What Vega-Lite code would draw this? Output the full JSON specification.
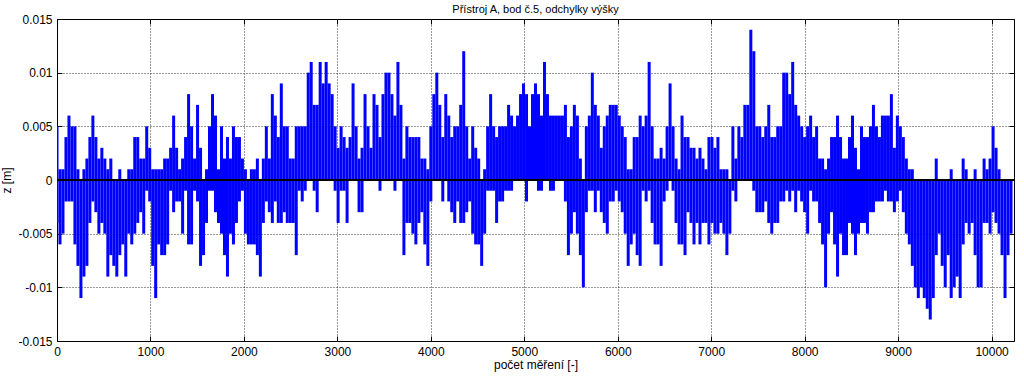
{
"$schema": "https://vega.github.io/schema/vega-lite/v6.json",
"width": 957, "height": 322,
"autosize": "none",
"padding": {"left": 57, "top": 19, "right": 10, "bottom": 37},
"background": "white",
"title": {"text": "Přístroj A, bod č.5, odchylky výšky", "fontSize": 11, "fontWeight": "normal", "font": "Liberation Sans", "offset": 5, "dy": 7, "color": "black"},
"config": {
  "view": {"stroke": "black", "strokeWidth": 1},
  "axis": {"labelFont": "Liberation Sans", "labelFontSize": 12, "titleFont": "Liberation Sans", "titleFontSize": 12, "titleFontWeight": "normal", "labelColor": "black", "titleColor": "black", "domain": false, "tickColor": "#000", "tickSize": -5, "labelPadding": 10, "gridColor": "#000", "gridDash": [1, 2], "gridOpacity": 0.8}
},
"resolve": {"axis": {"x": "independent", "y": "independent"}},
"layer": [
{
"data": {"values": [
{"n":0,"hi":0.005,"lo":-0.004},{"n":32,"hi":0.001,"lo":-0.006},{"n":64,"hi":0.001,"lo":-0.005},{"n":96,"hi":0.004,"lo":-0.002},{"n":128,"hi":0.006,"lo":-0.002},{"n":160,"hi":0.005,"lo":-0.002},{"n":192,"hi":0.005,"lo":-0.006},{"n":224,"hi":0.001,"lo":-0.008},{"n":256,"hi":0,"lo":-0.011},{"n":288,"hi":0.001,"lo":-0.009},
{"n":320,"hi":0.002,"lo":-0.008},{"n":352,"hi":0.004,"lo":-0.004},{"n":384,"hi":0.006,"lo":-0.002},{"n":416,"hi":0.004,"lo":-0.003},{"n":448,"hi":0.002,"lo":-0.005},{"n":480,"hi":0.003,"lo":-0.004},{"n":512,"hi":0.002,"lo":-0.005},{"n":544,"hi":0.001,"lo":-0.009},{"n":576,"hi":0.002,"lo":-0.007},{"n":608,"hi":0,"lo":-0.008},
{"n":640,"hi":0,"lo":-0.009},{"n":672,"hi":0.001,"lo":-0.007},{"n":704,"hi":0,"lo":-0.006},{"n":736,"hi":0,"lo":-0.009},{"n":768,"hi":0.001,"lo":-0.005},{"n":800,"hi":0.001,"lo":-0.006},{"n":832,"hi":0.004,"lo":-0.005},{"n":864,"hi":0.004,"lo":-0.004},{"n":896,"hi":0.002,"lo":-0.003},{"n":928,"hi":0.002,"lo":-0.005},
{"n":960,"hi":0.005,"lo":-0.001},{"n":992,"hi":0.003,"lo":-0.002},{"n":1024,"hi":0.001,"lo":-0.008},{"n":1056,"hi":0.001,"lo":-0.011},{"n":1088,"hi":0.001,"lo":-0.006},{"n":1120,"hi":0.001,"lo":-0.007},{"n":1152,"hi":0.002,"lo":-0.007},{"n":1184,"hi":0.002,"lo":-0.006},{"n":1216,"hi":0.003,"lo":-0.001},{"n":1248,"hi":0.006,"lo":-0.003},
{"n":1280,"hi":0.003,"lo":-0.002},{"n":1312,"hi":0.001,"lo":-0.002},{"n":1344,"hi":0.002,"lo":-0.005},{"n":1376,"hi":0.004,"lo":-0.001},{"n":1408,"hi":0.008,"lo":-0.006},{"n":1440,"hi":0.005,"lo":-0.006},{"n":1472,"hi":0.002,"lo":-0.001},{"n":1504,"hi":0.007,"lo":-0.002},{"n":1536,"hi":0.003,"lo":-0.008},{"n":1568,"hi":0,"lo":-0.007},
{"n":1600,"hi":0.001,"lo":-0.004},{"n":1632,"hi":0.005,"lo":-0.001},{"n":1664,"hi":0.008,"lo":-0.001},{"n":1696,"hi":0.006,"lo":-0.003},{"n":1728,"hi":0.001,"lo":-0.004},{"n":1760,"hi":0.005,"lo":-0.005},{"n":1792,"hi":0.002,"lo":-0.007},{"n":1824,"hi":0.004,"lo":-0.009},{"n":1856,"hi":0.002,"lo":-0.005},{"n":1888,"hi":0.005,"lo":-0.006},
{"n":1920,"hi":0.004,"lo":-0.004},{"n":1952,"hi":0.004,"lo":-0.002},{"n":1984,"hi":0.002,"lo":-0.001},{"n":2016,"hi":0.001,"lo":-0.005},{"n":2048,"hi":0,"lo":-0.006},{"n":2080,"hi":0.001,"lo":-0.006},{"n":2112,"hi":0.001,"lo":-0.006},{"n":2144,"hi":0.002,"lo":-0.007},{"n":2176,"hi":0,"lo":-0.009},{"n":2208,"hi":0.002,"lo":-0.004},
{"n":2240,"hi":0.005,"lo":-0.002},{"n":2272,"hi":0.002,"lo":-0.003},{"n":2304,"hi":0.008,"lo":-0.004},{"n":2336,"hi":0.006,"lo":-0.002},{"n":2368,"hi":0.004,"lo":-0.004},{"n":2400,"hi":0.009,"lo":-0.004},{"n":2432,"hi":0.005,"lo":-0.003},{"n":2464,"hi":0.005,"lo":-0.004},{"n":2496,"hi":0.002,"lo":-0.004},{"n":2528,"hi":0.002,"lo":-0.004},
{"n":2560,"hi":0.005,"lo":-0.007},{"n":2592,"hi":0.005,"lo":-0.001},{"n":2624,"hi":0.005,"lo":-0.002},{"n":2656,"hi":0.005,"lo":-0.001},{"n":2688,"hi":0.01,"lo":0},{"n":2720,"hi":0.011,"lo":0},{"n":2752,"hi":0.007,"lo":-0.001},{"n":2784,"hi":0.007,"lo":-0.003},{"n":2816,"hi":0.011,"lo":0},{"n":2848,"hi":0.009,"lo":0},
{"n":2880,"hi":0.011,"lo":0},{"n":2912,"hi":0.009,"lo":0},{"n":2944,"hi":0.008,"lo":0},{"n":2976,"hi":0.005,"lo":-0.001},{"n":3008,"hi":0.003,"lo":-0.004},{"n":3040,"hi":0.005,"lo":-0.001},{"n":3072,"hi":0.004,"lo":-0.001},{"n":3104,"hi":0.003,"lo":-0.004},{"n":3136,"hi":0.004,"lo":0},{"n":3168,"hi":0.009,"lo":0},
{"n":3200,"hi":0.005,"lo":0},{"n":3232,"hi":0.002,"lo":-0.003},{"n":3264,"hi":0.003,"lo":-0.003},{"n":3296,"hi":0.008,"lo":0},{"n":3328,"hi":0.005,"lo":0},{"n":3360,"hi":0.003,"lo":0},{"n":3392,"hi":0.008,"lo":0},{"n":3424,"hi":0.007,"lo":0},{"n":3456,"hi":0.004,"lo":-0.001},{"n":3488,"hi":0.008,"lo":0},
{"n":3520,"hi":0.01,"lo":0},{"n":3552,"hi":0.01,"lo":0},{"n":3584,"hi":0.008,"lo":0},{"n":3616,"hi":0.006,"lo":-0.001},{"n":3648,"hi":0.011,"lo":0},{"n":3680,"hi":0.007,"lo":0},{"n":3712,"hi":0.002,"lo":-0.007},{"n":3744,"hi":0.005,"lo":-0.004},{"n":3776,"hi":0.004,"lo":-0.004},{"n":3808,"hi":0.004,"lo":-0.005},
{"n":3840,"hi":0.004,"lo":-0.006},{"n":3872,"hi":0.004,"lo":-0.004},{"n":3904,"hi":0.002,"lo":-0.003},{"n":3936,"hi":0.002,"lo":-0.006},{"n":3968,"hi":0.001,"lo":-0.008},{"n":4000,"hi":0.005,"lo":-0.002},{"n":4032,"hi":0.008,"lo":0},{"n":4064,"hi":0.01,"lo":0},{"n":4096,"hi":0.007,"lo":0},{"n":4128,"hi":0.004,"lo":-0.002},
{"n":4160,"hi":0.008,"lo":0},{"n":4192,"hi":0.006,"lo":-0.002},{"n":4224,"hi":0.004,"lo":-0.003},{"n":4256,"hi":0.005,"lo":-0.004},{"n":4288,"hi":0.005,"lo":-0.002},{"n":4320,"hi":0.007,"lo":-0.004},{"n":4352,"hi":0.012,"lo":-0.004},{"n":4384,"hi":0.005,"lo":-0.003},{"n":4416,"hi":0.002,"lo":-0.002},{"n":4448,"hi":0.005,"lo":-0.005},
{"n":4480,"hi":0.003,"lo":-0.006},{"n":4512,"hi":0.002,"lo":-0.006},{"n":4544,"hi":0,"lo":-0.008},{"n":4576,"hi":0.001,"lo":-0.005},{"n":4608,"hi":0.005,"lo":-0.001},{"n":4640,"hi":0.008,"lo":-0.001},{"n":4672,"hi":0.005,"lo":-0.001},{"n":4704,"hi":0.004,"lo":-0.004},{"n":4736,"hi":0.005,"lo":-0.002},{"n":4768,"hi":0.005,"lo":-0.002},
{"n":4800,"hi":0.005,"lo":-0.001},{"n":4832,"hi":0.007,"lo":-0.001},{"n":4864,"hi":0.006,"lo":-0.001},{"n":4896,"hi":0.005,"lo":0},{"n":4928,"hi":0.006,"lo":0},{"n":4960,"hi":0.008,"lo":0},{"n":4992,"hi":0.009,"lo":0},{"n":5024,"hi":0.008,"lo":-0.002},{"n":5056,"hi":0.005,"lo":0},{"n":5088,"hi":0.008,"lo":0},
{"n":5120,"hi":0.009,"lo":0},{"n":5152,"hi":0.008,"lo":-0.001},{"n":5184,"hi":0.006,"lo":-0.001},{"n":5216,"hi":0.011,"lo":0},{"n":5248,"hi":0.008,"lo":0},{"n":5280,"hi":0.006,"lo":-0.001},{"n":5312,"hi":0.006,"lo":-0.001},{"n":5344,"hi":0.006,"lo":0},{"n":5376,"hi":0.006,"lo":0},{"n":5408,"hi":0.006,"lo":0},
{"n":5440,"hi":0.007,"lo":-0.002},{"n":5472,"hi":0.004,"lo":-0.007},{"n":5504,"hi":0.005,"lo":-0.005},{"n":5536,"hi":0.007,"lo":-0.003},{"n":5568,"hi":0.006,"lo":-0.005},{"n":5600,"hi":0.002,"lo":-0.007},{"n":5632,"hi":0,"lo":-0.01},{"n":5664,"hi":0.005,"lo":-0.003},{"n":5696,"hi":0.006,"lo":-0.001},{"n":5728,"hi":0.01,"lo":-0.001},
{"n":5760,"hi":0.007,"lo":-0.003},{"n":5792,"hi":0.006,"lo":-0.001},{"n":5824,"hi":0.003,"lo":-0.003},{"n":5856,"hi":0.005,"lo":-0.004},{"n":5888,"hi":0.006,"lo":-0.005},{"n":5920,"hi":0.007,"lo":-0.002},{"n":5952,"hi":0.007,"lo":-0.002},{"n":5984,"hi":0.007,"lo":-0.001},{"n":6016,"hi":0.006,"lo":-0.002},{"n":6048,"hi":0.005,"lo":-0.003},
{"n":6080,"hi":0.004,"lo":-0.005},{"n":6112,"hi":0.001,"lo":-0.008},{"n":6144,"hi":0.001,"lo":-0.006},{"n":6176,"hi":0.004,"lo":-0.005},{"n":6208,"hi":0.004,"lo":-0.007},{"n":6240,"hi":0.006,"lo":-0.008},{"n":6272,"hi":0.005,"lo":-0.001},{"n":6304,"hi":0.006,"lo":-0.002},{"n":6336,"hi":0.011,"lo":-0.001},{"n":6368,"hi":0.005,"lo":-0.004},
{"n":6400,"hi":0.002,"lo":-0.006},{"n":6432,"hi":0.002,"lo":-0.006},{"n":6464,"hi":0.003,"lo":-0.008},{"n":6496,"hi":0.002,"lo":-0.002},{"n":6528,"hi":0.005,"lo":-0.001},{"n":6560,"hi":0.009,"lo":0},{"n":6592,"hi":0.005,"lo":-0.001},{"n":6624,"hi":0.002,"lo":-0.004},{"n":6656,"hi":0.001,"lo":-0.006},{"n":6688,"hi":0.006,"lo":-0.006},
{"n":6720,"hi":0.004,"lo":-0.007},{"n":6752,"hi":0.004,"lo":-0.003},{"n":6784,"hi":0.003,"lo":-0.004},{"n":6816,"hi":0.003,"lo":-0.006},{"n":6848,"hi":0.002,"lo":-0.004},{"n":6880,"hi":0.003,"lo":-0.006},{"n":6912,"hi":0.002,"lo":-0.004},{"n":6944,"hi":0.001,"lo":-0.004},{"n":6976,"hi":0.004,"lo":-0.006},{"n":7008,"hi":0.004,"lo":-0.004},
{"n":7040,"hi":0.003,"lo":-0.005},{"n":7072,"hi":0.004,"lo":-0.005},{"n":7104,"hi":0.001,"lo":-0.004},{"n":7136,"hi":0.001,"lo":-0.005},{"n":7168,"hi":0.001,"lo":-0.007},{"n":7200,"hi":0,"lo":-0.005},{"n":7232,"hi":0.005,"lo":-0.001},{"n":7264,"hi":0.002,"lo":-0.002},{"n":7296,"hi":0.005,"lo":0},{"n":7328,"hi":0.004,"lo":0},
{"n":7360,"hi":0.007,"lo":0},{"n":7392,"hi":0.007,"lo":0},{"n":7424,"hi":0.014,"lo":0},{"n":7456,"hi":0.012,"lo":-0.001},{"n":7488,"hi":0.005,"lo":-0.003},{"n":7520,"hi":0.005,"lo":-0.003},{"n":7552,"hi":0.004,"lo":-0.003},{"n":7584,"hi":0.005,"lo":-0.002},{"n":7616,"hi":0.007,"lo":-0.004},{"n":7648,"hi":0.004,"lo":-0.005},
{"n":7680,"hi":0.004,"lo":-0.004},{"n":7712,"hi":0.005,"lo":-0.004},{"n":7744,"hi":0.005,"lo":-0.002},{"n":7776,"hi":0.01,"lo":-0.002},{"n":7808,"hi":0.01,"lo":-0.001},{"n":7840,"hi":0.008,"lo":-0.002},{"n":7872,"hi":0.011,"lo":-0.001},{"n":7904,"hi":0.007,"lo":-0.003},{"n":7936,"hi":0.006,"lo":-0.001},{"n":7968,"hi":0.005,"lo":-0.002},
{"n":8000,"hi":0.004,"lo":-0.003},{"n":8032,"hi":0.005,"lo":-0.005},{"n":8064,"hi":0.006,"lo":-0.001},{"n":8096,"hi":0.004,"lo":-0.002},{"n":8128,"hi":0.005,"lo":-0.002},{"n":8160,"hi":0.002,"lo":-0.004},{"n":8192,"hi":0.002,"lo":-0.006},{"n":8224,"hi":0.001,"lo":-0.01},{"n":8256,"hi":0.002,"lo":-0.005},{"n":8288,"hi":0.004,"lo":-0.003},
{"n":8320,"hi":0.004,"lo":-0.006},{"n":8352,"hi":0.006,"lo":-0.009},{"n":8384,"hi":0.004,"lo":-0.005},{"n":8416,"hi":0.002,"lo":-0.007},{"n":8448,"hi":0.002,"lo":-0.007},{"n":8480,"hi":0.004,"lo":-0.004},{"n":8512,"hi":0.006,"lo":-0.005},{"n":8544,"hi":0.003,"lo":-0.007},{"n":8576,"hi":0.001,"lo":-0.005},{"n":8608,"hi":0.005,"lo":-0.004},
{"n":8640,"hi":0.004,"lo":-0.004},{"n":8672,"hi":0.004,"lo":-0.005},{"n":8704,"hi":0.005,"lo":-0.003},{"n":8736,"hi":0.007,"lo":-0.003},{"n":8768,"hi":0.005,"lo":-0.002},{"n":8800,"hi":0.004,"lo":-0.002},{"n":8832,"hi":0.006,"lo":-0.002},{"n":8864,"hi":0.006,"lo":-0.001},{"n":8896,"hi":0.006,"lo":-0.002},{"n":8928,"hi":0.008,"lo":-0.002},
{"n":8960,"hi":0.003,"lo":-0.003},{"n":8992,"hi":0.006,"lo":-0.002},{"n":9024,"hi":0.005,"lo":-0.001},{"n":9056,"hi":0.004,"lo":-0.003},{"n":9088,"hi":0.002,"lo":-0.005},{"n":9120,"hi":0.001,"lo":-0.006},{"n":9152,"hi":0.001,"lo":-0.008},{"n":9184,"hi":0,"lo":-0.01},{"n":9216,"hi":0,"lo":-0.011},{"n":9248,"hi":0,"lo":-0.01},
{"n":9280,"hi":0,"lo":-0.011},{"n":9312,"hi":0,"lo":-0.012},{"n":9344,"hi":0,"lo":-0.013},{"n":9376,"hi":0,"lo":-0.011},{"n":9408,"hi":0.002,"lo":-0.007},{"n":9440,"hi":0,"lo":-0.005},{"n":9472,"hi":0,"lo":-0.008},{"n":9504,"hi":0,"lo":-0.01},{"n":9536,"hi":0,"lo":-0.007},{"n":9568,"hi":0.001,"lo":-0.011},
{"n":9600,"hi":0,"lo":-0.01},{"n":9632,"hi":0,"lo":-0.009},{"n":9664,"hi":0,"lo":-0.011},{"n":9696,"hi":0.002,"lo":-0.006},{"n":9728,"hi":0.001,"lo":-0.004},{"n":9760,"hi":0,"lo":-0.005},{"n":9792,"hi":0,"lo":-0.004},{"n":9824,"hi":0.001,"lo":-0.007},{"n":9856,"hi":0,"lo":-0.01},{"n":9888,"hi":0,"lo":-0.01},
{"n":9920,"hi":0.002,"lo":-0.004},{"n":9952,"hi":0.001,"lo":-0.004},{"n":9984,"hi":0.002,"lo":-0.005},{"n":10016,"hi":0.005,"lo":-0.003},{"n":10048,"hi":0.003,"lo":-0.004},{"n":10080,"hi":0.001,"lo":-0.005},{"n":10112,"hi":0,"lo":-0.007},{"n":10144,"hi":0,"lo":-0.011},{"n":10176,"hi":0,"lo":-0.007},{"n":10208,"hi":0,"lo":-0.005}
]},
"mark": {"type": "rule", "color": "#0000ff", "strokeWidth": 3, "clip": true},
"encoding": {
  "x": {"field": "n", "type": "quantitative", "scale": {"domain": [0, 10240], "nice": false, "zero": false},
        "axis": {"orient": "bottom", "values": [0,1000,2000,3000,4000,5000,6000,7000,8000,9000,10000], "format": "d", "grid": true, "title": "počet měření [-]", "labelFlush": false, "titlePadding": 2}},
  "y": {"field": "lo", "type": "quantitative", "scale": {"domain": [-0.015, 0.015], "nice": false, "zero": false},
        "axis": {"orient": "left", "values": [-0.015,-0.01,-0.005,0,0.005,0.01,0.015], "grid": true, "title": "z [m]", "labelFlush": false, "labelExpr": "datum.value < 0 ? '-' + format(-datum.value, '~g') : format(datum.value, '~g')"}},
  "y2": {"field": "hi"}
}
},
{
"data": {"values": [{}]},
"mark": {"type": "rule", "color": "black", "strokeWidth": 2},
"encoding": {
  "x": {"datum": 0, "type": "quantitative", "axis": {"orient": "top", "values": [0,1000,2000,3000,4000,5000,6000,7000,8000,9000,10000], "labels": false, "grid": false, "title": null}},
  "x2": {"datum": 10240},
  "y": {"datum": 0, "type": "quantitative", "axis": {"orient": "right", "values": [-0.015,-0.01,-0.005,0,0.005,0.01,0.015], "labels": false, "grid": false, "title": null}}
}
}
]
}
